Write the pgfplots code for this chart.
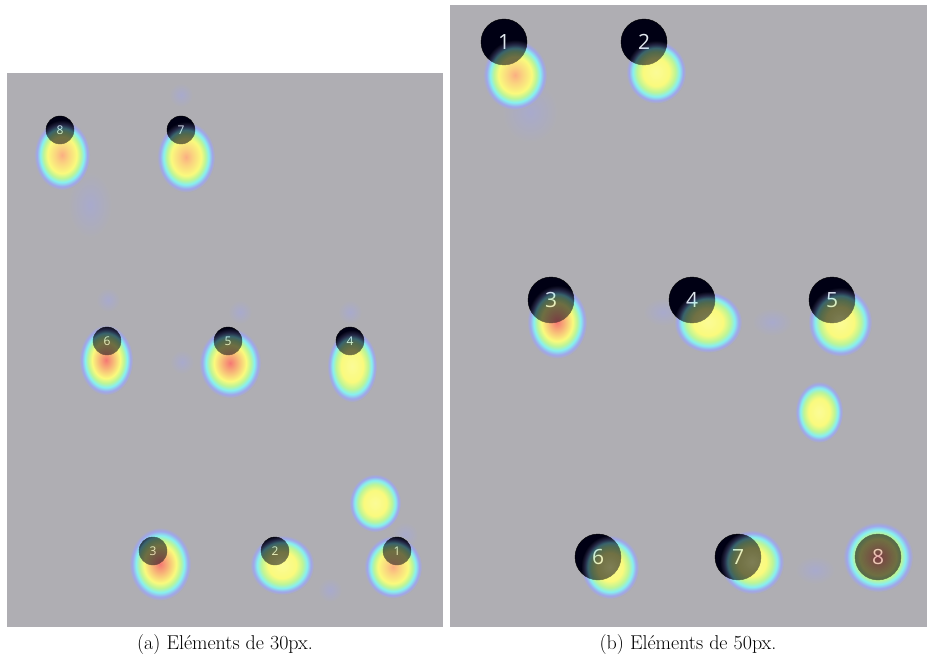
\documentclass[border=0pt]{standalone}
\usepackage{fontspec}
\usepackage{pgfplots}
\pgfplotsset{compat=1.18}
\newfontfamily\numfont{Open Sans}

\definecolor{bg}{RGB}{175,174,179}
\definecolor{hR}{RGB}{245,120,115}
\definecolor{hO}{RGB}{250,175,130}
\definecolor{hY}{RGB}{250,250,125}
\definecolor{hG}{RGB}{190,245,150}
\definecolor{hC}{RGB}{135,240,240}
\definecolor{hL}{RGB}{160,165,235}
\definecolor{numtxt}{RGB}{225,232,238}
\colorlet{hRO}{hR!55!hY}
\colorlet{hOY}{hO!50!hY}
\colorlet{hYc}{hY!80!white}
\colorlet{hF}{hL!45!bg}
% fading levels (gray value = opacity)
\definecolor{opA}{gray}{0.5}
\definecolor{opB}{gray}{0.42}
\definecolor{opZ}{gray}{0}

% heat map blobs: radial shadings that fade into the grey background
\pgfdeclareradialshading{heatR}{\pgfpointorigin}{color(0bp)=(hR); color(6bp)=(hRO); color(13bp)=(hY); color(16.5bp)=(hG); color(19.5bp)=(hC); color(22.5bp)=(hL); color(25bp)=(bg); color(50bp)=(bg)}
\pgfdeclareradialshading{heatO}{\pgfpointorigin}{color(0bp)=(hO); color(6bp)=(hOY); color(13bp)=(hY); color(16.5bp)=(hG); color(19.5bp)=(hC); color(22.5bp)=(hL); color(25bp)=(bg); color(50bp)=(bg)}
\pgfdeclareradialshading{heatY}{\pgfpointorigin}{color(0bp)=(hYc); color(11bp)=(hY); color(16bp)=(hG); color(19.5bp)=(hC); color(22.5bp)=(hL); color(25bp)=(bg); color(50bp)=(bg)}
\pgfdeclareradialshading{heatF}{\pgfpointorigin}{color(0bp)=(hF); color(25bp)=(bg); color(50bp)=(bg)}
% overlay fading: the heat map seen through the dark number discs
\pgfdeclareradialshading{glowsh}{\pgfpointorigin}{color(0bp)=(opA); color(19bp)=(opB); color(25bp)=(opZ); color(50bp)=(opZ)}
\pgfdeclarefading{glow}{\pgfuseshading{glowsh}}
\def\heatmark#1{\pgfpathcircle{\pgfpointorigin}{\pgfplotmarksize}\pgfshadepath{#1}{0}\pgfusepath{discard}}
\def\glowmark#1{\pgfscope\pgfpathcircle{\pgfpointorigin}{\pgfplotmarksize}\pgfsetfadingforcurrentpath{glow}{}\pgfshadepath{#1}{0}\pgfusepath{discard}\endpgfscope}
\pgfdeclareplotmark{heatR}{\heatmark{heatR}}
\pgfdeclareplotmark{heatO}{\heatmark{heatO}}
\pgfdeclareplotmark{heatY}{\heatmark{heatY}}
\pgfdeclareplotmark{heatF}{\heatmark{heatF}}
\pgfdeclareplotmark{glowR}{\glowmark{heatR}}
\pgfdeclareplotmark{glowO}{\glowmark{heatO}}
\pgfdeclareplotmark{glowY}{\glowmark{heatY}}

\tikzset{capt/.style={font=\fontsize{20}{24}\selectfont}}
\pgfplotsset{
  panel/.style={scale only axis, y dir=reverse, clip=false,
    axis background/.style={fill=bg}, axis line style={draw=none}, ticks=none},
  blob/.style 2 args={only marks, mark=#1, mark size=#2, forget plot, draw=none},
  ys/.style={mark options={yscale=#1, draw=none}},
  numbers/.style={only marks, mark=*, mark size=#1,
    mark options={fill=black!92!blue, draw=none},
    nodes near coords, point meta=explicit symbolic,
    every node near coord/.style={anchor=center, text=numtxt}},
}

\begin{document}
\begin{tikzpicture}
\useasboundingbox (0,0) rectangle (929pt,663pt);
% (a) 30px
\begin{axis}[panel, at={(7pt,36pt)}, anchor=south west,
  width=436pt, height=554pt, xmin=7, xmax=443, ymin=73, ymax=627]
  \addplot[blob={heatF}{12}] coordinates {(181,95) (108,300) (240,312) (350,312) (182,362) (330,590)};
  \addplot[blob={heatF}{22}, ys=1.5] coordinates {(90,205)};
  \addplot[blob={heatF}{13}] coordinates {(405,535)};
  \addplot[blob={heatO}{28}, ys=1.25] coordinates {(62,155)};
  \addplot[blob={heatO}{29}, ys=1.22] coordinates {(186,157)};
  \addplot[blob={heatR}{27}, ys=1.3] coordinates {(106,360)};
  \addplot[blob={heatR}{31}, ys=1.13] coordinates {(230,363)};
  \addplot[blob={heatY}{25}, ys=1.45] coordinates {(352,366)};
  \addplot[blob={heatY}{26}, ys=1.12] coordinates {(375,503)};
  \addplot[blob={heatR}{31}, ys=1.18] coordinates {(160,564)};
  \addplot[blob={heatY}{32}, ys=0.93] coordinates {(282,565)};
  \addplot[blob={heatO}{29}, ys=1.08] coordinates {(393,567)};
  \addplot[numbers=14, every node near coord/.append style={font=\numfont\fontsize{12}{12}\selectfont}]
    table[meta=lbl] {
      x   y   lbl
      60  130 8
      181 130 7
      107 341 6
      228 341 5
      350 341 4
      153 551 3
      275 551 2
      397 551 1
    };
  % heat seen through the discs
  \addplot[blob={glowO}{28}, ys=1.25] coordinates {(62,155)};
  \addplot[blob={glowO}{29}, ys=1.22] coordinates {(186,157)};
  \addplot[blob={glowR}{27}, ys=1.3] coordinates {(106,360)};
  \addplot[blob={glowR}{31}, ys=1.13] coordinates {(230,363)};
  \addplot[blob={glowY}{25}, ys=1.45] coordinates {(352,366)};
  \addplot[blob={glowR}{31}, ys=1.18] coordinates {(160,564)};
  \addplot[blob={glowY}{32}, ys=0.93] coordinates {(282,565)};
  \addplot[blob={glowO}{29}, ys=1.08] coordinates {(393,567)};
  \node[capt] at (axis cs:225,645) {(a) Eléments de 30px.};
\end{axis}
% (b) 50px
\begin{axis}[panel, at={(450pt,36pt)}, anchor=south west,
  width=477pt, height=622pt, xmin=450, xmax=927, ymin=5, ymax=627]
  \addplot[blob={heatF}{28}, ys=1.1] coordinates {(530,112)};
  \addplot[blob={heatF}{20}, ys=0.7] coordinates {(663,312) (772,322) (815,570)};
  \addplot[blob={heatO}{32}, ys=1.1] coordinates {(515,75)};
  \addplot[blob={heatY}{30}, ys=1.05] coordinates {(656,72)};
  \addplot[blob={heatR}{30}, ys=1.22] coordinates {(557,322)};
  \addplot[blob={heatY}{34}, ys=0.9] coordinates {(708,322)};
  \addplot[blob={heatY}{32}, ys=1.08] coordinates {(840,322)};
  \addplot[blob={heatY}{24}, ys=1.28] coordinates {(819,412)};
  \addplot[blob={heatY}{29}, ys=1.1] coordinates {(610,567)};
  \addplot[blob={heatY}{32}] coordinates {(752,562)};
  \addplot[blob={heatR}{35}] coordinates {(878,557)};
  \addplot[numbers=23, every node near coord/.append style={font=\numfont\fontsize{21}{21}\selectfont}]
    table[meta=lbl] {
      x   y   lbl
      504 42  1
      644 42  2
      551 300 3
      692 300 4
      832 300 5
      598 557 6
      738 557 7
      878 557 8
    };
  \addplot[blob={glowO}{32}, ys=1.1] coordinates {(515,75)};
  \addplot[blob={glowY}{30}, ys=1.05] coordinates {(656,72)};
  \addplot[blob={glowR}{30}, ys=1.22] coordinates {(557,322)};
  \addplot[blob={glowY}{34}, ys=0.9] coordinates {(708,322)};
  \addplot[blob={glowY}{32}, ys=1.08] coordinates {(840,322)};
  \addplot[blob={glowY}{29}, ys=1.1] coordinates {(610,567)};
  \addplot[blob={glowY}{32}] coordinates {(752,562)};
  \addplot[blob={glowR}{35}] coordinates {(878,557)};
  \node[capt] at (axis cs:688,645) {(b) Eléments de 50px.};
\end{axis}
\end{tikzpicture}
\end{document}
